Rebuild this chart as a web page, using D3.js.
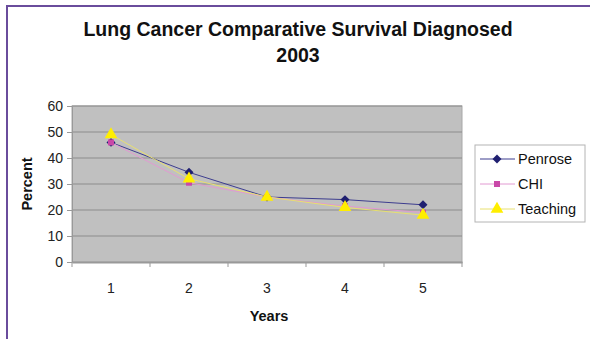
<!DOCTYPE html>
<html>
<head>
<meta charset="utf-8">
<script src="https://cdn.jsdelivr.net/npm/d3@7"></script>
<style>
  html, body { margin: 0; padding: 0; background: #fff; }
  #chart { width: 590px; height: 339px; }
  text { font-family: "Liberation Sans", Arial, sans-serif; }
</style>
</head>
<body>
<div id="chart"></div>
<script>
// Lung cancer survival by years since diagnosis
const years = ["1", "2", "3", "4", "5"];
const penrose = [46, 34.5, 25, 24, 22];
const chi = [46, 30.5, 25, 21.5, 19];
const teaching = [49, 32, 25, 21, 18];
const yTicks = [0, 10, 20, 30, 40, 50, 60];

const W = 590, H = 339;
const M = {t: 106, r: 128, b: 77, l: 72};

const svg = d3.select('#chart').append('svg')
  .attr('width', W).attr('height', H);

// outer frame (left and top edges only)
svg.append('path')
  .attr('d', `M7,${H} L7,6 L${W},6`)
  .attr('fill', 'none')
  .attr('stroke', '#6a4c9c')
  .attr('stroke-width', 2);

const x = d3.scaleBand().domain(years).range([M.l, W - M.r]);
const y = d3.scaleLinear().domain([0, 60]).range([H - M.b, M.t]);

// plot area
svg.append('rect')
  .attr('x', M.l).attr('y', M.t)
  .attr('width', W - M.r - M.l).attr('height', H - M.b - M.t)
  .attr('fill', '#c0c0c0')
  .attr('stroke', '#a8a8a8');

// gridlines
svg.append('g')
  .selectAll('line')
  .data(yTicks.filter(d => d > 0))
  .enter().append('line')
  .attr('x1', M.l).attr('x2', W - M.r)
  .attr('y1', d => y(d)).attr('y2', d => y(d))
  .attr('stroke', '#8c8c8c')
  .attr('stroke-width', 1.2);

// y axis
const yAxis = svg.append('g')
  .attr('transform', `translate(${M.l},0)`)
  .call(d3.axisLeft(y).tickValues(yTicks).tickSize(5).tickPadding(4));
yAxis.select('.domain').attr('stroke', '#999');
yAxis.selectAll('.tick line').attr('stroke', '#999');
yAxis.selectAll('text').attr('font-size', '14px').attr('fill', '#222')
  .attr('font-family', '"Liberation Sans", Arial, sans-serif');

// x axis, ticks on band edges
const xAxis = svg.append('g')
  .attr('transform', `translate(0,${H - M.b})`)
  .call(d3.axisBottom(x).tickSize(0).tickPadding(21));
xAxis.select('.domain').attr('stroke', '#999').attr('stroke-width', 2);
xAxis.selectAll('text').attr('font-size', '14px').attr('fill', '#222')
  .attr('font-family', '"Liberation Sans", Arial, sans-serif');
svg.append('g')
  .selectAll('line')
  .data(years.map(d => x(d)).concat([W - M.r]))
  .enter().append('line')
  .attr('x1', d => d).attr('x2', d => d)
  .attr('y1', H - M.b).attr('y2', H - M.b + 5)
  .attr('stroke', '#999');

// series
const series = [
  {name: 'Penrose', values: penrose, line: '#3d3d8f', fill: '#1f1f70', shape: 'diamond'},
  {name: 'CHI', values: chi, line: '#e29ad2', fill: '#c948a8', shape: 'square'},
  {name: 'Teaching', values: teaching, line: '#e8e070', fill: '#ffee00', shape: 'triangle'}
];

const cx = d => x(d) + x.bandwidth() / 2;
const line = d3.line().x(d => cx(d.year)).y(d => y(d.value));
const symbolOf = {diamond: d3.symbolSquare, square: d3.symbolSquare, triangle: d3.symbolTriangle};
const sizeOf = {diamond: 40, square: 36, triangle: 70};
const rot = s => s === 'diamond' ? ' rotate(45)' : '';

series.forEach(s => {
  const pts = years.map((yr, i) => ({year: yr, value: s.values[i]}));
  svg.append('path')
    .datum(pts)
    .attr('d', line)
    .attr('fill', 'none')
    .attr('stroke', s.line)
    .attr('stroke-width', 1);
});
series.forEach(s => {
  const pts = years.map((yr, i) => ({year: yr, value: s.values[i]}));
  svg.append('g').selectAll('path')
    .data(pts)
    .enter().append('path')
    .attr('d', d3.symbol().type(symbolOf[s.shape]).size(sizeOf[s.shape]))
    .attr('transform', d => `translate(${cx(d.year)},${y(d.value)})${rot(s.shape)}`)
    .attr('fill', s.fill);
});

// title
const title = svg.append('text')
  .attr('x', 298).attr('y', 36)
  .attr('text-anchor', 'middle')
  .attr('font-size', '19.5px').attr('font-weight', 700).attr('fill', '#111');
title.append('tspan').attr('x', 298).text('Lung Cancer Comparative Survival Diagnosed');
title.append('tspan').attr('x', 298).attr('dy', 26).text('2003');

// axis titles
svg.append('text')
  .attr('x', 269).attr('y', 321)
  .attr('text-anchor', 'middle')
  .attr('font-size', '14.5px').attr('font-weight', 700).attr('fill', '#111')
  .text('Years');
svg.append('text')
  .attr('transform', `translate(32,${(M.t + H - M.b) / 2}) rotate(-90)`)
  .attr('text-anchor', 'middle')
  .attr('font-size', '14.5px').attr('font-weight', 700).attr('fill', '#111')
  .text('Percent');

// legend
const legend = svg.append('g').attr('transform', 'translate(475,145)');
legend.append('rect')
  .attr('width', 110).attr('height', 77)
  .attr('fill', '#fff').attr('stroke', '#b4b4b4');
series.forEach((s, i) => {
  const row = legend.append('g').attr('transform', `translate(0,${14 + i * 25})`);
  row.append('line')
    .attr('x1', 5).attr('x2', 40).attr('y1', 0).attr('y2', 0)
    .attr('stroke', s.line);
  row.append('path')
    .attr('d', d3.symbol().type(symbolOf[s.shape]).size(sizeOf[s.shape]))
    .attr('transform', `translate(22,0)${rot(s.shape)}`)
    .attr('fill', s.fill);
  row.append('text')
    .attr('x', 43).attr('y', 5)
    .attr('font-size', '14.5px').attr('fill', '#111')
    .text(s.name);
});
</script>
</body>
</html>
